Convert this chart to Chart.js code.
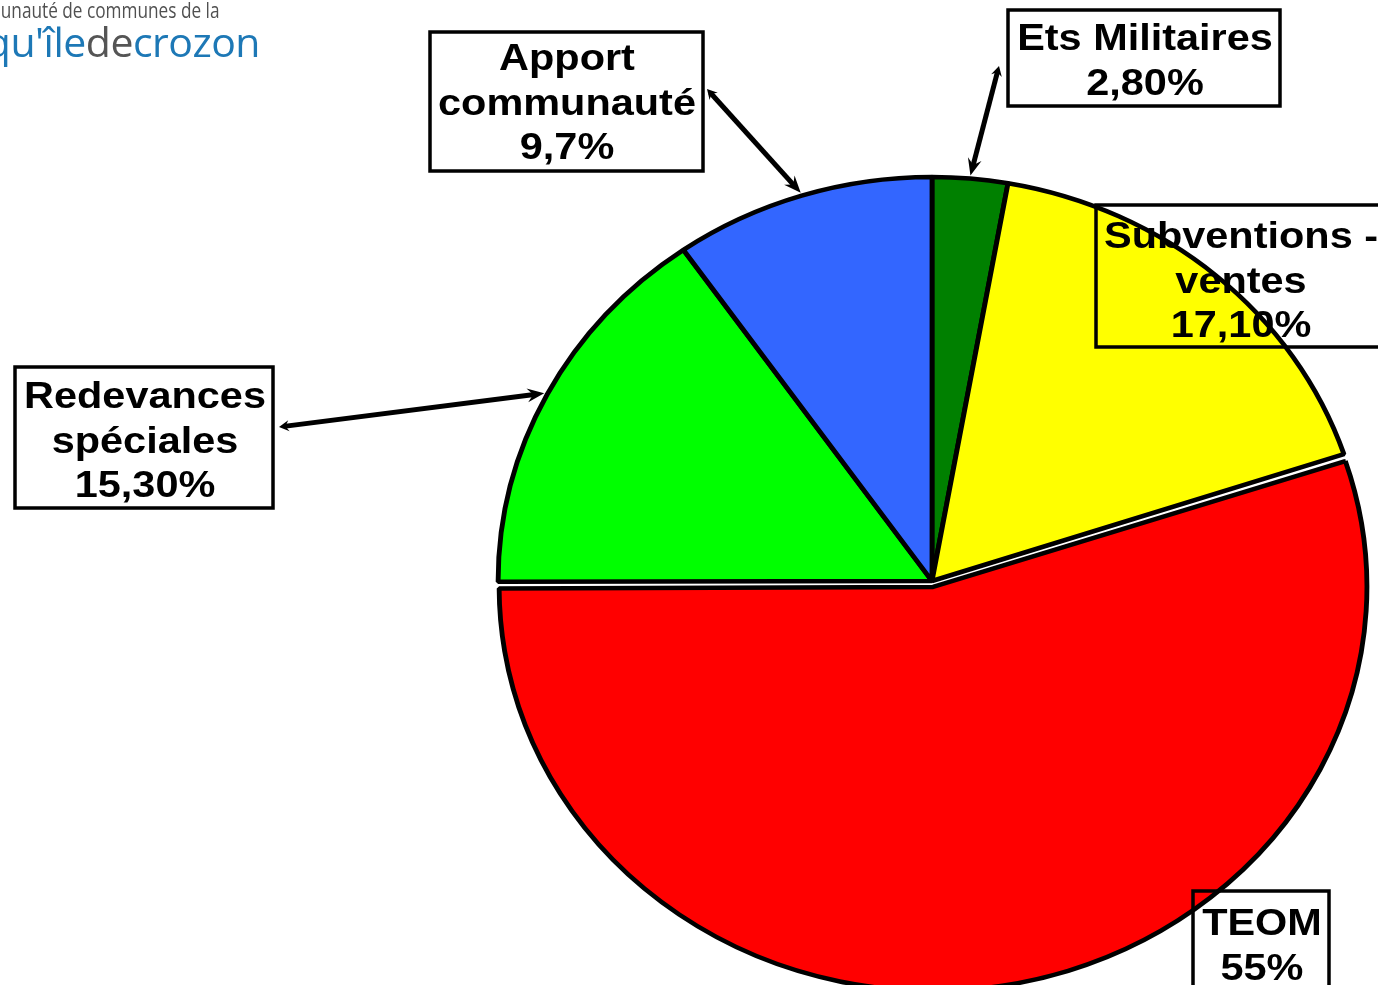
<!DOCTYPE html>
<html>
<head>
<meta charset="utf-8">
<script src="https://cdn.jsdelivr.net/npm/chart.js@4.4.0/dist/chart.umd.min.js"></script>
<style>
    html, body { margin: 0; padding: 0; background: #fff; overflow: hidden; width: 1378px; height: 985px; }
    #wrap { position: absolute; left: 0; top: 0; width: 1378px; height: 985px; }
    .logo1 { position: absolute; right: 1158px; top: 0px; font: 21px 'Open Sans'; line-height: 21px; color: #505050; white-space: nowrap; transform: scaleX(0.82); transform-origin: right center; }
    .logo2 { position: absolute; right: 1118px; top: 21px; font: 41px 'Open Sans'; line-height: 41px; color: #1d78b6; white-space: nowrap; letter-spacing: -0.5px; }
    .logo2 .de { color: #555; }
</style>
</head>
<body>
<div id="wrap"><canvas id="pieChart"></canvas></div>
<div class="logo1">Communauté de communes de la</div>
<div class="logo2">presqu'île<span class="de">de</span>crozon</div>
<script>
// Chart data
const labels = ['Ets Militaires', 'Subventions -\nventes', 'TEOM', 'Redevances\nspéciales', 'Apport\ncommunauté'];
const values = [2.8, 17.1, 55, 15.3, 9.7];
const valueLabels = ['2,80%', '17,10%', '55%', '15,30%', '9,7%'];
const colors = ['#008000', '#ffff00', '#ff0000', '#00ff00', '#3366ff'];
const offsets = [0, 0, 24, 0, 0];

// The source pie is a bit wider than tall
const STRETCH = 1.074;
const TEXT_STRETCH = 1.12;
const LINE_H = 44.5;

// Callout boxes (layout only)
const boxes = [
    { x: 1008, y: 10, w: 272, h: 96, fill: '#fff', cx: 1145, base: 50, from: [999, 66] },
    { x: 1096, y: 205, w: 300, h: 142, fill: null, cx: 1241, base: 248 },
    { x: 1193, y: 891, w: 136, h: 120, fill: null, cx: 1262, base: 935 },
    { x: 15, y: 367, w: 258, h: 141, fill: '#fff', cx: 145, base: 408, from: [279, 427] },
    { x: 430, y: 32, w: 273, h: 139, fill: '#fff', cx: 567, base: 70, from: [707, 89] }
];

function drawHead(ctx, x, y, ang, len, wid) {
    ctx.save();
    ctx.translate(x, y);
    ctx.rotate(ang);
    ctx.beginPath();
    ctx.moveTo(0, 0);
    ctx.lineTo(-len, -wid / 2);
    ctx.lineTo(-len * 0.65, 0);
    ctx.lineTo(-len, wid / 2);
    ctx.closePath();
    ctx.fill();
    ctx.restore();
}

function drawArrow(ctx, x1, y1, x2, y2) {
    const ang = Math.atan2(y2 - y1, x2 - x1);
    ctx.save();
    ctx.strokeStyle = '#000';
    ctx.fillStyle = '#000';
    ctx.lineWidth = 5;
    ctx.beginPath();
    ctx.moveTo(x1 + Math.cos(ang) * 5, y1 + Math.sin(ang) * 5);
    ctx.lineTo(x2 - Math.cos(ang) * 10, y2 - Math.sin(ang) * 10);
    ctx.stroke();
    drawHead(ctx, x2, y2, ang, 17, 14);
    // small head on the box side
    drawHead(ctx, x1, y1, ang + Math.PI, 10, 11);
    ctx.restore();
}

const stretchPlugin = {
    id: 'stretchPie',
    afterDatasetUpdate(chart, args) {
        // keep the exploded slice the same size as the others
        chart.getDatasetMeta(args.index).data.forEach((a, i) => {
            if (offsets[i]) a.outerRadius -= offsets[i] / 4;
        });
    },
    beforeDatasetsDraw(chart) {
        const a = chart.getDatasetMeta(0).data[0];
        const ctx = chart.ctx;
        ctx.save();
        ctx.translate(a.x, 0);
        ctx.scale(STRETCH, 1);
        ctx.translate(-a.x, 0);
    },
    afterDatasetsDraw(chart) {
        chart.ctx.restore();
    }
};

const calloutPlugin = {
    id: 'callouts',
    afterDraw(chart) {
        const ctx = chart.ctx;
        const arcs = chart.getDatasetMeta(0).data;
        boxes.forEach((b, i) => {
            const p = arcs[i].getProps(['x', 'y', 'startAngle', 'endAngle', 'outerRadius'], true);
            if (b.from) {
                const mid = (p.startAngle + p.endAngle) / 2;
                const r = p.outerRadius + 3;
                const tx = p.x + Math.cos(mid) * r * STRETCH;
                const ty = p.y + Math.sin(mid) * r;
                drawArrow(ctx, b.from[0], b.from[1], tx, ty);
            }
            ctx.save();
            if (b.fill) {
                ctx.fillStyle = b.fill;
                ctx.fillRect(b.x, b.y, b.w, b.h);
            }
            ctx.strokeStyle = '#000';
            ctx.lineWidth = 3.5;
            ctx.strokeRect(b.x, b.y, b.w, b.h);
            const lines = labels[i].split('\n').concat([valueLabels[i]]);
            ctx.fillStyle = '#000';
            ctx.font = "bold 37px 'Liberation Sans', Arial, sans-serif";
            ctx.textAlign = 'center';
            ctx.textBaseline = 'alphabetic';
            lines.forEach((t, k) => {
                ctx.save();
                ctx.translate(b.cx, b.base + k * LINE_H);
                ctx.scale(TEXT_STRETCH, 1);
                ctx.fillText(t, 0, 0);
                ctx.restore();
            });
            ctx.restore();
        });
    }
};

new Chart(document.getElementById('pieChart'), {
    type: 'pie',
    data: {
        labels: labels,
        datasets: [{
            data: values,
            backgroundColor: colors,
            borderColor: '#000',
            borderWidth: 4.5,
            offset: offsets,
            radius: 404,
            clip: false
        }]
    },
    options: {
        responsive: true,
        maintainAspectRatio: false,
        animation: false,
        layout: { padding: { left: 486, top: 177, right: 0, bottom: 0 } },
        plugins: { legend: { display: false }, tooltip: { enabled: false } }
    },
    plugins: [stretchPlugin, calloutPlugin]
});
</script>
</body>
</html>
